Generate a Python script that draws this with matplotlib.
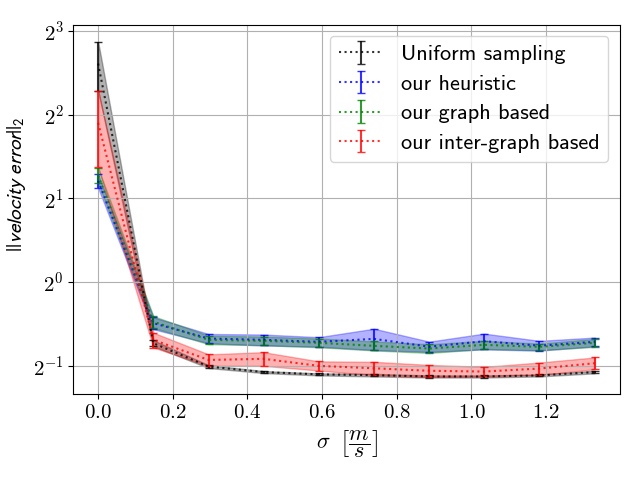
import numpy as np
import matplotlib
matplotlib.use('Agg')
import matplotlib.pyplot as plt

plt.rcParams['font.family'] = 'serif'
plt.rcParams['font.serif'] = ['cmr10']
plt.rcParams['mathtext.fontset'] = 'cm'
plt.rcParams['axes.formatter.use_mathtext'] = True
plt.rcParams['font.size'] = 15

# noise level sigma [m/s]
sigma = [0.0, 0.148, 0.296, 0.443, 0.591, 0.739, 0.887, 1.034, 1.182, 1.33]

# mean and std of the velocity error per method
uniform_mean = [6.10, 0.603, 0.497, 0.475, 0.466, 0.463, 0.458, 0.458, 0.462, 0.475]
uniform_std = [1.22, 0.015, 0.006, 0.004, 0.004, 0.005, 0.004, 0.004, 0.004, 0.005]
heuristic_mean = [2.31, 0.712, 0.627, 0.620, 0.610, 0.625, 0.586, 0.613, 0.591, 0.610]
heuristic_std = [0.13, 0.035, 0.024, 0.028, 0.024, 0.055, 0.025, 0.040, 0.024, 0.022]
graph_mean = [2.42, 0.720, 0.620, 0.615, 0.605, 0.590, 0.577, 0.595, 0.585, 0.605]
graph_std = [0.15, 0.035, 0.022, 0.022, 0.022, 0.022, 0.021, 0.020, 0.016, 0.020]
inter_mean = [3.735, 0.620, 0.525, 0.530, 0.500, 0.490, 0.480, 0.477, 0.489, 0.511]
inter_std = [1.145, 0.038, 0.025, 0.030, 0.019, 0.027, 0.024, 0.019, 0.025, 0.025]

xticks = [0.0, 0.2, 0.4, 0.6, 0.8, 1.0, 1.2]

series = [
    ('Uniform sampling', uniform_mean, uniform_std, 'k'),
    ('our heuristic', heuristic_mean, heuristic_std, 'b'),
    ('our graph based', graph_mean, graph_std, 'g'),
    ('our inter-graph based', inter_mean, inter_std, 'r'),
]

fig, ax = plt.subplots(figsize=(6.4, 4.8), dpi=100)
for label, m, s, c in series:
    m = np.array(m)
    s = np.array(s)
    ax.errorbar(sigma, m, yerr=s, color=c, linestyle=':', capsize=3,
                alpha=0.8, label=label)
    ax.fill_between(sigma, m - s, m + s, color=c, alpha=0.3)

ax.set_yscale('log', base=2)
ax.set_xticks(xticks)
ax.grid(True)
ax.set_xlabel(r'$\sigma\;\;\left[\dfrac{m}{s}\right]$', fontsize=16, labelpad=5)
ax.set_ylabel(r'$||\mathit{velocity\ error}||_2$', math_fontfamily='stixsans')
ax.yaxis.set_label_coords(-0.083, 0.57)
ax.legend(loc='upper right', prop={'family': 'cmss10', 'size': 16},
          labelspacing=0.45)
plt.subplots_adjust(left=0.1145, right=0.968, top=0.9485, bottom=0.1785)
plt.savefig('out.png')
